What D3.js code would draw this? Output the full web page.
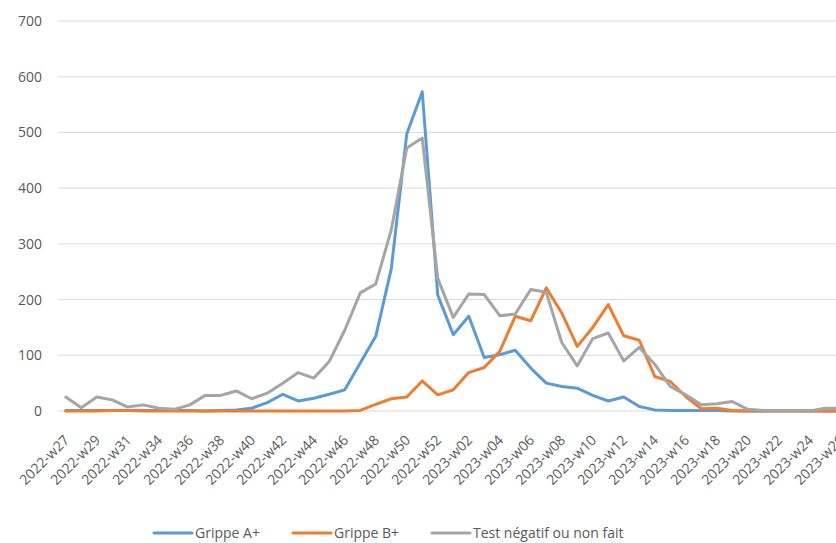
<!DOCTYPE html>
<html>
<head>
<meta charset="utf-8">
<script src="https://cdn.jsdelivr.net/npm/d3@7"></script>
<style>
  body { margin: 0; background: #fff; }
  svg { display: block; font-family: "Open Sans", "Noto Sans", sans-serif; }
</style>
</head>
<body>
<div id="chart"></div>
<script>
// Weekly counts, 2022-w27 to 2023-w26 (2022-w33 absent from the source)
const weeks = [
  "2022-w27", "2022-w28", "2022-w29", "2022-w30", "2022-w31", "2022-w32", "2022-w34",
  "2022-w35", "2022-w36", "2022-w37", "2022-w38", "2022-w39", "2022-w40", "2022-w41",
  "2022-w42", "2022-w43", "2022-w44", "2022-w45", "2022-w46", "2022-w47", "2022-w48",
  "2022-w49", "2022-w50", "2022-w51", "2022-w52",
  "2023-w01", "2023-w02", "2023-w03", "2023-w04", "2023-w05", "2023-w06", "2023-w07",
  "2023-w08", "2023-w09", "2023-w10", "2023-w11", "2023-w12", "2023-w13", "2023-w14",
  "2023-w15", "2023-w16", "2023-w17", "2023-w18", "2023-w19", "2023-w20", "2023-w21",
  "2023-w22", "2023-w23", "2023-w24", "2023-w25", "2023-w26"
];

const grippeA = [
  1, 1, 1, 1, 1, 1, 1, 1, 1, 0, 1, 2, 5, 15, 30, 18, 23, 30, 38, 86, 134, 255, 497, 573, 208,
  137, 170, 96, 101, 109, 77, 50, 44, 41, 28, 18, 25, 8, 2, 1, 1, 1, 1, 0, 0, 0, 0, 0, 0, 0, 0
];

const grippeB = [
  0, 0, 0, 1, 1, 0, 0, 0, 0, 0, 0, 0, 0, 0, 0, 0, 0, 0, 0, 1, 12, 22, 25, 54, 29,
  38, 69, 78, 107, 170, 162, 221, 176, 116, 150, 191, 135, 127, 62, 53, 26, 4, 5, 1, 0, 0, 0, 0, 0, 0, 0
];

const testNeg = [
  25, 6, 25, 20, 7, 11, 5, 3, 11, 28, 28, 36, 22, 32, 50, 69, 59, 89, 145, 212, 228, 325, 472, 490, 238,
  168, 210, 209, 171, 174, 218, 213, 123, 81, 130, 140, 90, 114, 84, 44, 29, 11, 13, 17, 3, 1, 1, 1, 0, 5, 5
];

const yTicks = [0, 100, 200, 300, 400, 500, 600, 700];

const series = [
  { name: "Grippe A+", values: grippeA, color: "#5b9bd5" },
  { name: "Grippe B+", values: grippeB, color: "#ed7d31" },
  { name: "Test négatif ou non fait", values: testNeg, color: "#a5a5a5" }
];

const width = 836;
const height = 543;
// plot runs past the right edge, like the cropped original
const plot = { left: 58, right: 848.5, top: 21, bottom: 411 };

const svg = d3.select("#chart")
  .append("svg")
  .attr("width", width)
  .attr("height", height);

const x = d3.scalePoint()
  .domain(weeks)
  .range([plot.left, plot.right])
  .padding(0.5);

const y = d3.scaleLinear()
  .domain([0, 700])
  .range([plot.bottom, plot.top]);

// gridlines
svg.append("g")
  .selectAll("line")
  .data(yTicks)
  .join("line")
  .attr("x1", plot.left)
  .attr("x2", plot.right)
  .attr("y1", d => y(d))
  .attr("y2", d => y(d))
  .attr("stroke", "#d9d9d9")
  .attr("stroke-width", 1);

// y axis labels
const yAxis = svg.append("g")
  .attr("transform", `translate(${plot.left}, 0)`)
  .call(d3.axisLeft(y).tickValues(yTicks).tickSize(0).tickPadding(16));
yAxis.select(".domain").remove();
yAxis.selectAll("text")
  .attr("fill", "#595959")
  .style("font-size", "14px")
  .style("font-family", "\"Open Sans\", \"Noto Sans\", sans-serif");

// x axis labels, every other week
const xAxis = svg.append("g")
  .attr("transform", `translate(0, ${plot.bottom})`)
  .call(d3.axisBottom(x).tickValues(weeks.filter((d, i) => i % 2 === 0)).tickSize(0));
xAxis.select(".domain").remove();
xAxis.selectAll("text")
  .attr("fill", "#595959")
  .style("font-size", "14px")
  .style("font-family", "\"Open Sans\", \"Noto Sans\", sans-serif")
  .attr("text-anchor", "end")
  .attr("y", 0)
  .attr("dy", 0)
  .attr("transform", "translate(4, 30) rotate(-45)");

// lines
const line = d3.line()
  .x((d, i) => x(weeks[i]))
  .y(d => y(d));

svg.append("g")
  .selectAll("path")
  .data(series)
  .join("path")
  .attr("d", d => line(d.values))
  .attr("fill", "none")
  .attr("stroke", d => d.color)
  .attr("stroke-width", 3)
  .attr("stroke-linejoin", "round")
  .attr("stroke-linecap", "round");

// legend
const legendX = [154, 293, 432];
const legend = svg.append("g")
  .selectAll("g")
  .data(series)
  .join("g")
  .attr("transform", (d, i) => `translate(${legendX[i]}, 533)`);

legend.append("line")
  .attr("x1", 0)
  .attr("x2", 38)
  .attr("stroke", d => d.color)
  .attr("stroke-width", 3)
  .attr("stroke-linecap", "round");

legend.append("text")
  .attr("x", 41)
  .attr("dy", "0.35em")
  .attr("fill", "#595959")
  .style("font-size", "14px")
  .text(d => d.name);
</script>
</body>
</html>
